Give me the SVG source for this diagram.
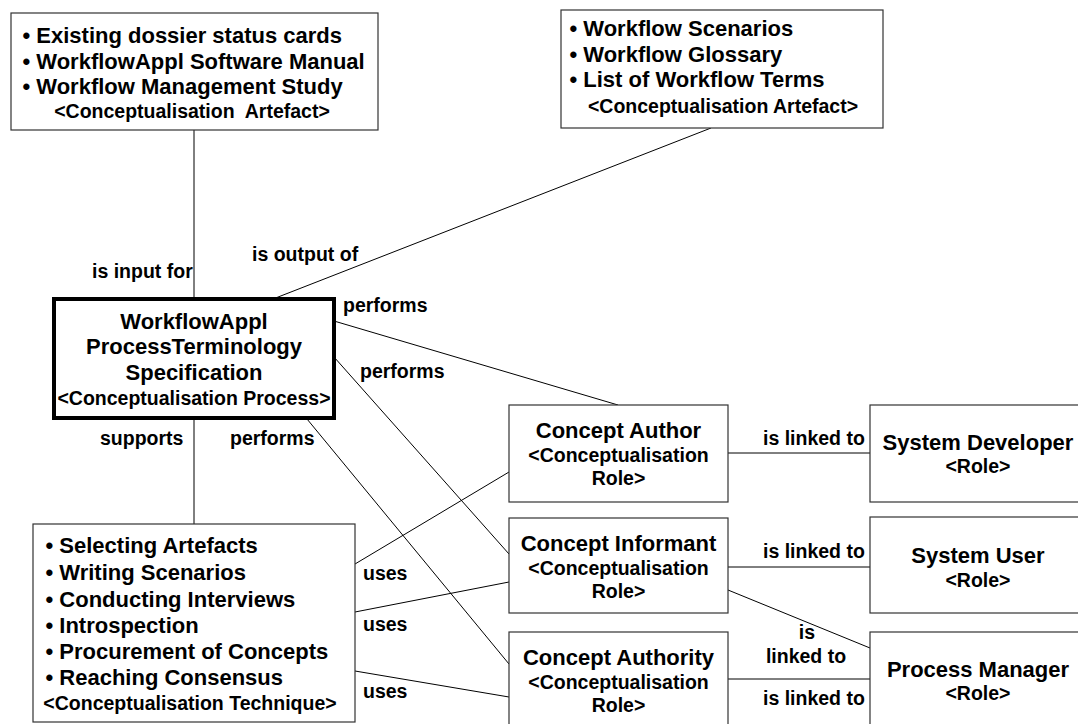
<svg xmlns="http://www.w3.org/2000/svg" width="1078" height="724" viewBox="0 0 1078 724">
<style>
.box{fill:#fff;stroke:#333;stroke-width:1.2}
.pbox{fill:#fff;stroke:#000;stroke-width:4}
.t{font-family:"Liberation Sans",Arial,Helvetica,sans-serif;font-weight:bold;font-size:22px;fill:#000}
.s{font-family:"Liberation Sans",Arial,Helvetica,sans-serif;font-weight:bold;font-size:19.5px;fill:#000}
.c{text-anchor:middle}
.conn line{stroke:#000;stroke-width:1}
</style>
<rect width="1078" height="724" fill="#fff"/>
<g id="connectors" class="conn">
<line x1="194" y1="130" x2="194" y2="299"/>
<line x1="711" y1="128" x2="273" y2="299"/>
<line x1="334" y1="321" x2="618" y2="405"/>
<line x1="334" y1="357" x2="509" y2="554"/>
<line x1="307" y1="419" x2="509" y2="664"/>
<line x1="194" y1="419" x2="194" y2="524"/>
<line x1="355" y1="564" x2="509" y2="472"/>
<line x1="355" y1="612" x2="509" y2="582"/>
<line x1="355" y1="671" x2="509" y2="697"/>
<line x1="728" y1="453" x2="870" y2="453"/>
<line x1="728" y1="567" x2="870" y2="567"/>
<line x1="728" y1="590" x2="870" y2="648"/>
<line x1="728" y1="679" x2="870" y2="679"/>
</g>
<g id="labels">
<text class="s" x="92" y="278">is input for</text>
<text class="s" x="252" y="261">is output of</text>
<text class="s" x="343" y="312">performs</text>
<text class="s" x="360" y="378">performs</text>
<text class="s" x="100" y="445">supports</text>
<text class="s" x="230" y="445">performs</text>
<text class="s" x="363" y="580">uses</text>
<text class="s" x="363" y="631">uses</text>
<text class="s" x="363" y="698">uses</text>
<text class="s" x="763" y="445">is linked to</text>
<text class="s" x="763" y="558">is linked to</text>
<text class="s c" x="807" y="639">is</text>
<text class="s c" x="806" y="663">linked to</text>
<text class="s" x="763" y="705">is linked to</text>
</g>
<g id="artefact-input">
<rect class="box" x="11" y="13" width="367" height="117"/>
<text class="t" x="22.5" y="43">• Existing dossier status cards</text>
<text class="t" x="22.5" y="69">• WorkflowAppl Software Manual</text>
<text class="t" x="22.5" y="94">• Workflow Management Study</text>
<text class="s c" x="192" y="118" xml:space="preserve">&lt;Conceptualisation  Artefact&gt;</text>
</g>
<g id="artefact-output">
<rect class="box" x="561" y="10" width="322" height="118"/>
<text class="t" x="569.5" y="36">• Workflow Scenarios</text>
<text class="t" x="569.5" y="62">• Workflow Glossary</text>
<text class="t" x="569.5" y="87">• List of Workflow Terms</text>
<text class="s c" x="723" y="113">&lt;Conceptualisation Artefact&gt;</text>
</g>
<g id="process">
<rect class="pbox" x="54" y="299" width="280" height="119"/>
<text class="t c" x="194" y="329">WorkflowAppl</text>
<text class="t c" x="194" y="354">ProcessTerminology</text>
<text class="t c" x="194" y="380">Specification</text>
<text class="s c" x="194" y="405">&lt;Conceptualisation Process&gt;</text>
</g>
<g id="technique">
<rect class="box" x="33" y="524" width="322" height="198"/>
<text class="t" x="45.5" y="553">• Selecting Artefacts</text>
<text class="t" x="45.5" y="580">• Writing Scenarios</text>
<text class="t" x="45.5" y="607">• Conducting Interviews</text>
<text class="t" x="45.5" y="633">• Introspection</text>
<text class="t" x="45.5" y="659">• Procurement of Concepts</text>
<text class="t" x="45.5" y="685">• Reaching Consensus</text>
<text class="s c" x="190" y="710">&lt;Conceptualisation Technique&gt;</text>
</g>
<g id="concept-author">
<rect class="box" x="509" y="405" width="219" height="97"/>
<text class="t c" x="618.5" y="438">Concept Author</text>
<text class="s c" x="618.5" y="462">&lt;Conceptualisation</text>
<text class="s c" x="618.5" y="485">Role&gt;</text>
</g>
<g id="concept-informant">
<rect class="box" x="509" y="518" width="219" height="95"/>
<text class="t c" x="618.5" y="551">Concept Informant</text>
<text class="s c" x="618.5" y="575">&lt;Conceptualisation</text>
<text class="s c" x="618.5" y="598">Role&gt;</text>
</g>
<g id="concept-authority">
<rect class="box" x="509" y="632" width="219" height="97"/>
<text class="t c" x="618.5" y="665">Concept Authority</text>
<text class="s c" x="618.5" y="689">&lt;Conceptualisation</text>
<text class="s c" x="618.5" y="712">Role&gt;</text>
</g>
<g id="system-developer">
<rect class="box" x="870" y="405" width="220" height="97"/>
<text class="t c" x="978" y="450">System Developer</text>
<text class="s c" x="978" y="473">&lt;Role&gt;</text>
</g>
<g id="system-user">
<rect class="box" x="870" y="517" width="220" height="96"/>
<text class="t c" x="978" y="563">System User</text>
<text class="s c" x="978" y="587">&lt;Role&gt;</text>
</g>
<g id="process-manager">
<rect class="box" x="870" y="632" width="220" height="97"/>
<text class="t c" x="978" y="677">Process Manager</text>
<text class="s c" x="978" y="700">&lt;Role&gt;</text>
</g>
</svg>
